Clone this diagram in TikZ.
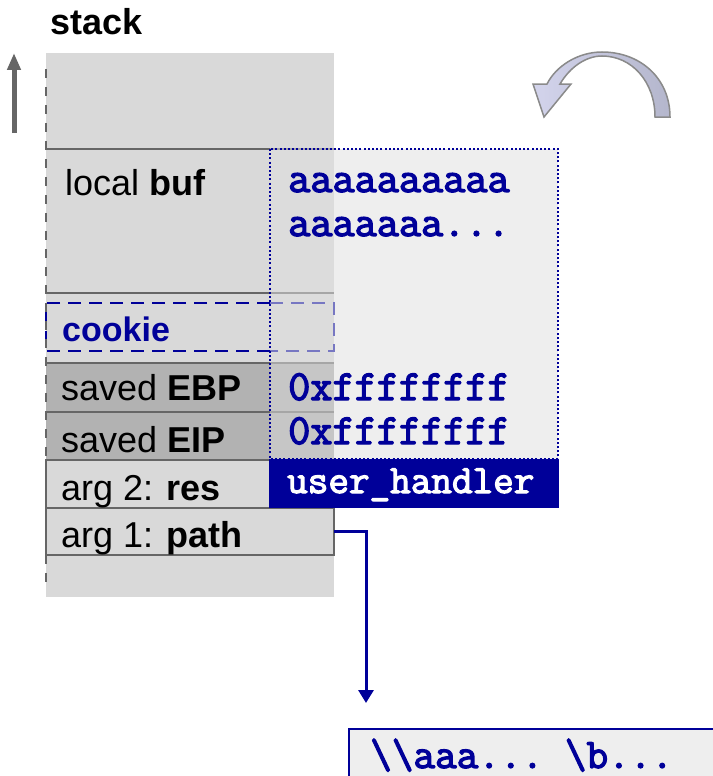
\documentclass[tikz,border=0pt]{standalone}
\usepackage{fontspec}
\setmainfont{Liberation Sans}
\setmonofont{Latin Modern Mono}[AutoFakeBold=3]
\usetikzlibrary{arrows.meta}

\definecolor{stackgray}{HTML}{D9D9D9}
\definecolor{stripgray}{HTML}{DCDCDC}
\definecolor{rowdark}{HTML}{B2B2B2}
\definecolor{rowdarklt}{HTML}{C6C6C6}
\definecolor{edgegray}{HTML}{666666}
\definecolor{edgelight}{HTML}{A6A6A6}
\definecolor{paper}{HTML}{EEEEEE}
\definecolor{navy}{HTML}{000099}
\definecolor{navylight}{HTML}{7777C2}
\definecolor{swirlA}{HTML}{D3D4EC}
\definecolor{swirlB}{HTML}{B4B6CC}
\definecolor{swirledge}{HTML}{8A8A8A}

\begin{document}
\begin{tikzpicture}[x=1pt,y=-1pt,
  box/.style={anchor=north west, inner sep=0pt, outer sep=0pt},
  rowline/.style={edgegray, line width=2pt},
  rowlinelt/.style={edgelight, line width=2pt},
  lbl/.style={anchor=base west, inner sep=0pt, font=\fontsize{36}{40}\selectfont},
  code/.style={anchor=base west, inner sep=0pt, text=navy, font=\fontsize{43}{44}\selectfont\ttfamily\bfseries},
  link/.style={navy, line width=3pt, -{Triangle[width=15pt,length=13pt]}}]
\useasboundingbox (0,0) rectangle (712,776);

% stack background and the overwritten area
\node[box, fill=stackgray, minimum width=288pt, minimum height=544pt] (stackbg) at (46,53) {};
\node[box, fill=stripgray, minimum width=64pt, minimum height=310pt] (strip) at (270,149) {};
\node[box, fill=paper, minimum width=224pt, minimum height=310pt] (overflow) at (334,149) {};

% saved registers
\node[box, fill=rowdark, minimum width=224pt, minimum height=97pt] (regs) at (46,363) {};
\node[box, fill=rowdarklt, minimum width=64pt, minimum height=96pt] (regslt) at (270,363) {};

% row separators
\foreach \yy in {149,293,363,412} {
  \draw[rowline] (46,\yy) -- (270,\yy);
  \draw[rowlinelt] (270,\yy) -- (334,\yy);
}

% canary slot
\draw[navy, line width=2pt, dash pattern=on 13pt off 8pt] (270,303) -- (46,303) -- (46,351) -- (270,351);
\draw[navylight, line width=2pt, dash pattern=on 13pt off 8pt] (270,303) -- (334,303) -- (334,351) -- (270,351);

% arguments
\node[box, draw=edgegray, line width=2pt, minimum width=224pt, minimum height=48pt] (argtwo) at (46,460) {};
\node[box, draw=edgegray, line width=2pt, minimum width=288pt, minimum height=47pt] (argone) at (46,508) {};

% open-ended stack edge
\draw[edgegray, line width=2.5pt, dash pattern=on 9pt off 9pt] (46,69) -- (46,582);

% extent of the overflowing input
\draw[navy, line width=1.6pt, dash pattern=on 2pt off 2.2pt] (270,149) rectangle (558,459);
\node[box, fill=navy, minimum width=290pt, minimum height=49pt] (handler) at (269,459) {};

% labels
\node[lbl, font=\fontsize{36}{40}\selectfont\bfseries] (title) at (50,35) {stack};
\node[lbl] (buf) at (65,195) {local \textbf{buf}};
\node[lbl, text=navy, font=\fontsize{34}{40}\selectfont\bfseries] (cookie) at (62,341) {cookie};
\node[lbl] (ebp) at (61,400) {saved \textbf{EBP}};
\node[lbl] (eip) at (61,452) {saved \textbf{EIP}};
\node[lbl] (res) at (61,500) {arg 2: \textbf{res}};
\node[lbl] (path) at (61,547) {arg 1: \textbf{path}};

\node[code] (fillA) at (288,192) {aaaaaaaaaa};
\node[code] (fillB) at (288,236) {aaaaaaa...};
\node[code] (fillC) at (288,400) {0xffffffff};
\node[code] (fillD) at (288,444) {0xffffffff};
\node[code, text=white, font=\fontsize{40}{44}\selectfont\ttfamily\bfseries] (uh) at (287,493) {user\_handler};

% string pointed to by path
\node[box, fill=paper, draw=navy, line width=2pt, minimum width=400pt, minimum height=80pt] (pathstr) at (349,729) {};
\node[code, font=\fontsize{42}{44}\selectfont\ttfamily\bfseries] (pathtext) at (370,768) {\textbackslash\textbackslash aaa... \textbackslash b...};
\coordinate (pathtip) at (366,703);
\draw[link] (argone.east) -| (pathtip);

% growth direction
\coordinate (growlow) at (14,133);
\coordinate (growhigh) at (14,53);
\draw[edgegray, line width=5pt, -{Triangle[width=13pt,length=17pt]}] (growlow) -- (growhigh);

% curved return arrow
\filldraw[draw=swirledge, line width=1.5pt, left color=swirlA, right color=swirlB]
  (670,117) .. controls (670,78) and (640,52) .. (602,52)
  .. controls (578,52) and (556,66) .. (547,84)
  -- (533,84) -- (544,117) -- (571,84) -- (560,84)
  .. controls (570,67) and (586,56) .. (602,56)
  .. controls (632,56) and (655,82) .. (655,117) -- cycle;
\end{tikzpicture}
\end{document}
